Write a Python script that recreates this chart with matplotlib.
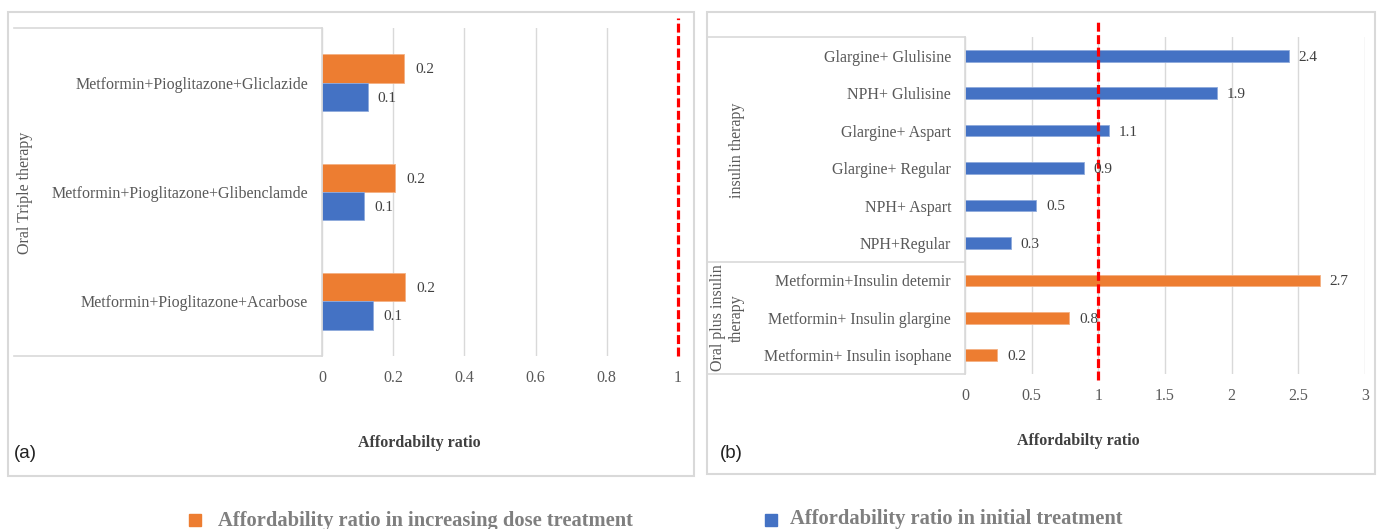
import matplotlib.pyplot as plt
from matplotlib.lines import Line2D
from matplotlib.patches import Rectangle

# panel (a): oral triple therapy
triple_names = [
    "Metformin+Pioglitazone+Gliclazide",
    "Metformin+Pioglitazone+Glibenclamde",
    "Metformin+Pioglitazone+Acarbose",
]
triple_increase = [0.23, 0.205, 0.234]
triple_initial = [0.128, 0.119, 0.144]
triple_increase_lbl = ["0.2", "0.2", "0.2"]
triple_initial_lbl = ["0.1", "0.1", "0.1"]

# panel (b): insulin / oral plus insulin
insulin_names = [
    "Glargine+ Glulisine",
    "NPH+ Glulisine",
    "Glargine+ Aspart",
    "Glargine+ Regular",
    "NPH+ Aspart",
    "NPH+Regular",
]
insulin_values = [2.43, 1.89, 1.08, 0.89, 0.534, 0.346]
insulin_lbl = ["2.4", "1.9", "1.1", "0.9", "0.5", "0.3"]

oral_ins_names = [
    "Metformin+Insulin detemir",
    "Metformin+ Insulin glargine",
    "Metformin+ Insulin isophane",
]
oral_ins_values = [2.66, 0.783, 0.243]
oral_ins_lbl = ["2.7", "0.8", "0.2"]

ORANGE = "#ED7D31"
BLUE = "#4472C4"
GRID = "#D9D9D9"
TXT = "#595959"
SERIF = "Liberation Serif"

W, H = 1378, 529
fig = plt.figure(figsize=(W / 100, H / 100), dpi=100)


def fx(px):
    return px / W


def fy(py):
    return 1 - py / H


def axes_px(left, top, right, bottom):
    return fig.add_axes([fx(left), fy(bottom), fx(right) - fx(left), (bottom - top) / H])


def hline(x0, x1, y, color=GRID, lw=1.2):
    fig.add_artist(Line2D([fx(x0), fx(x1)], [fy(y), fy(y)], color=color, lw=lw))


def style_axis(ax, xmax, ticks, ticklabels):
    ax.set_xlim(0, xmax)
    ax.set_xticks(ticks)
    ax.set_xticklabels(ticklabels, family=SERIF, fontsize=11.5, color=TXT)
    ax.tick_params(axis="both", length=0)
    ax.tick_params(axis="x", pad=10)
    ax.tick_params(axis="y", pad=10)
    ax.grid(axis="x", color=GRID, lw=1)
    ax.set_axisbelow(True)
    for s in ["top", "right", "bottom"]:
        ax.spines[s].set_visible(False)
    ax.spines["left"].set_color(GRID)
    ax.spines["left"].set_linewidth(1.2)


def red_line(ax, top_frac, bottom_frac):
    ax.axvline(1, ymin=bottom_frac, ymax=top_frac, color="#FF0000", lw=2.3,
               linestyle=(0, (2.8, 1.1)), clip_on=False, zorder=5)


# panel borders
fig.add_artist(Rectangle((fx(8), fy(476)), fx(694) - fx(8), (476 - 12) / H,
                         fill=False, ec=GRID, lw=1.5))
fig.add_artist(Rectangle((fx(707), fy(474)), fx(1375) - fx(707), (474 - 12) / H,
                         fill=False, ec=GRID, lw=1.5))

# ---- panel (a)
ax1 = axes_px(322, 28, 678, 356)
y = list(range(len(triple_names)))
h = 0.258
ax1.barh([v - h / 2 for v in y], triple_increase, height=h, color=ORANGE,
         edgecolor="#F4B183", lw=0.6)
ax1.barh([v + h / 2 for v in y], triple_initial, height=h, color=BLUE,
         edgecolor="#8FAADC", lw=0.6)
for i in y:
    ax1.annotate(triple_increase_lbl[i], (triple_increase[i], i - h / 2),
                 xytext=(8, -1), textcoords="offset points", va="center",
                 family=SERIF, fontsize=11, color="#404040")
    ax1.annotate(triple_initial_lbl[i], (triple_initial[i], i + h / 2),
                 xytext=(7, -1), textcoords="offset points", va="center",
                 family=SERIF, fontsize=11, color="#404040")
ax1.set_ylim(len(y) - 0.5, -0.5)
ax1.set_yticks(y)
ax1.set_yticklabels(triple_names, family=SERIF, fontsize=11.5, color=TXT)
style_axis(ax1, 1, [0, 0.2, 0.4, 0.6, 0.8, 1], ["0", "0.2", "0.4", "0.6", "0.8", "1"])
red_line(ax1, (356 - 18) / 328, 0)

hline(14, 322, 28)
hline(14, 322, 356)
fig.text(fx(25), fy(193), "Oral Triple therapy", rotation=90, ha="center", va="center",
         family=SERIF, fontsize=11.5, color=TXT)
fig.text(fx(419), fy(443), "Affordabilty ratio", ha="center", va="center",
         family=SERIF, fontsize=11.5, fontweight="bold", color="#404040")
fig.text(fx(14), fy(453), "(a)", ha="left", va="center",
         family="Liberation Sans", fontsize=13.5, color="#222222")

# ---- panel (b)
ax2 = axes_px(965, 37, 1365, 374)
names_b = insulin_names + oral_ins_names
vals_b = insulin_values + oral_ins_values
lbls_b = insulin_lbl + oral_ins_lbl
cols_b = [BLUE] * len(insulin_names) + [ORANGE] * len(oral_ins_names)
edges_b = ["#8FAADC"] * len(insulin_names) + ["#F4B183"] * len(oral_ins_names)
yb = list(range(len(names_b)))
ax2.barh(yb, vals_b, height=0.31, color=cols_b, edgecolor=edges_b, lw=0.6)
for i in yb:
    ax2.annotate(lbls_b[i], (vals_b[i], i), xytext=(7, -1), textcoords="offset points",
                 va="center", family=SERIF, fontsize=11, color="#404040", zorder=6)
ax2.set_ylim(len(yb) - 0.5, -0.5)
ax2.set_yticks(yb)
ax2.set_yticklabels(names_b, family=SERIF, fontsize=11.5, color=TXT)
style_axis(ax2, 3, [0, 0.5, 1, 1.5, 2, 2.5, 3], ["0", "0.5", "1", "1.5", "2", "2.5", "3"])
red_line(ax2, (374 - 21) / 337, -(380 - 374) / 337)

hline(707, 965, 37)
hline(707, 965, 262)
hline(707, 965, 374)
fig.text(fx(737), fy(150), "insulin therapy", rotation=90, ha="center", va="center",
         family=SERIF, fontsize=11.5, color=TXT)
fig.text(fx(727), fy(318), "Oral plus insulin\ntherapy", rotation=90, ha="center",
         va="center", family=SERIF, fontsize=11.5, color=TXT, linespacing=1.25)
fig.text(fx(1078), fy(441), "Affordabilty ratio", ha="center", va="center",
         family=SERIF, fontsize=11.5, fontweight="bold", color="#404040")
fig.text(fx(720), fy(453), "(b)", ha="left", va="center",
         family="Liberation Sans", fontsize=13.5, color="#222222")

# ---- legend
fig.add_artist(Rectangle((fx(189), fy(526)), 12 / W, 12 / H, color=ORANGE))
fig.text(fx(218), fy(521), "Affordability ratio in increasing dose treatment",
         ha="left", va="center", family=SERIF, fontsize=14.8, fontweight="bold",
         color="#7F7F7F")
fig.add_artist(Rectangle((fx(765), fy(526)), 12 / W, 12 / H, color=BLUE))
fig.text(fx(790), fy(519), "Affordability ratio in initial treatment",
         ha="left", va="center", family=SERIF, fontsize=14.8, fontweight="bold",
         color="#7F7F7F")

fig.savefig("out.png", dpi=100)
